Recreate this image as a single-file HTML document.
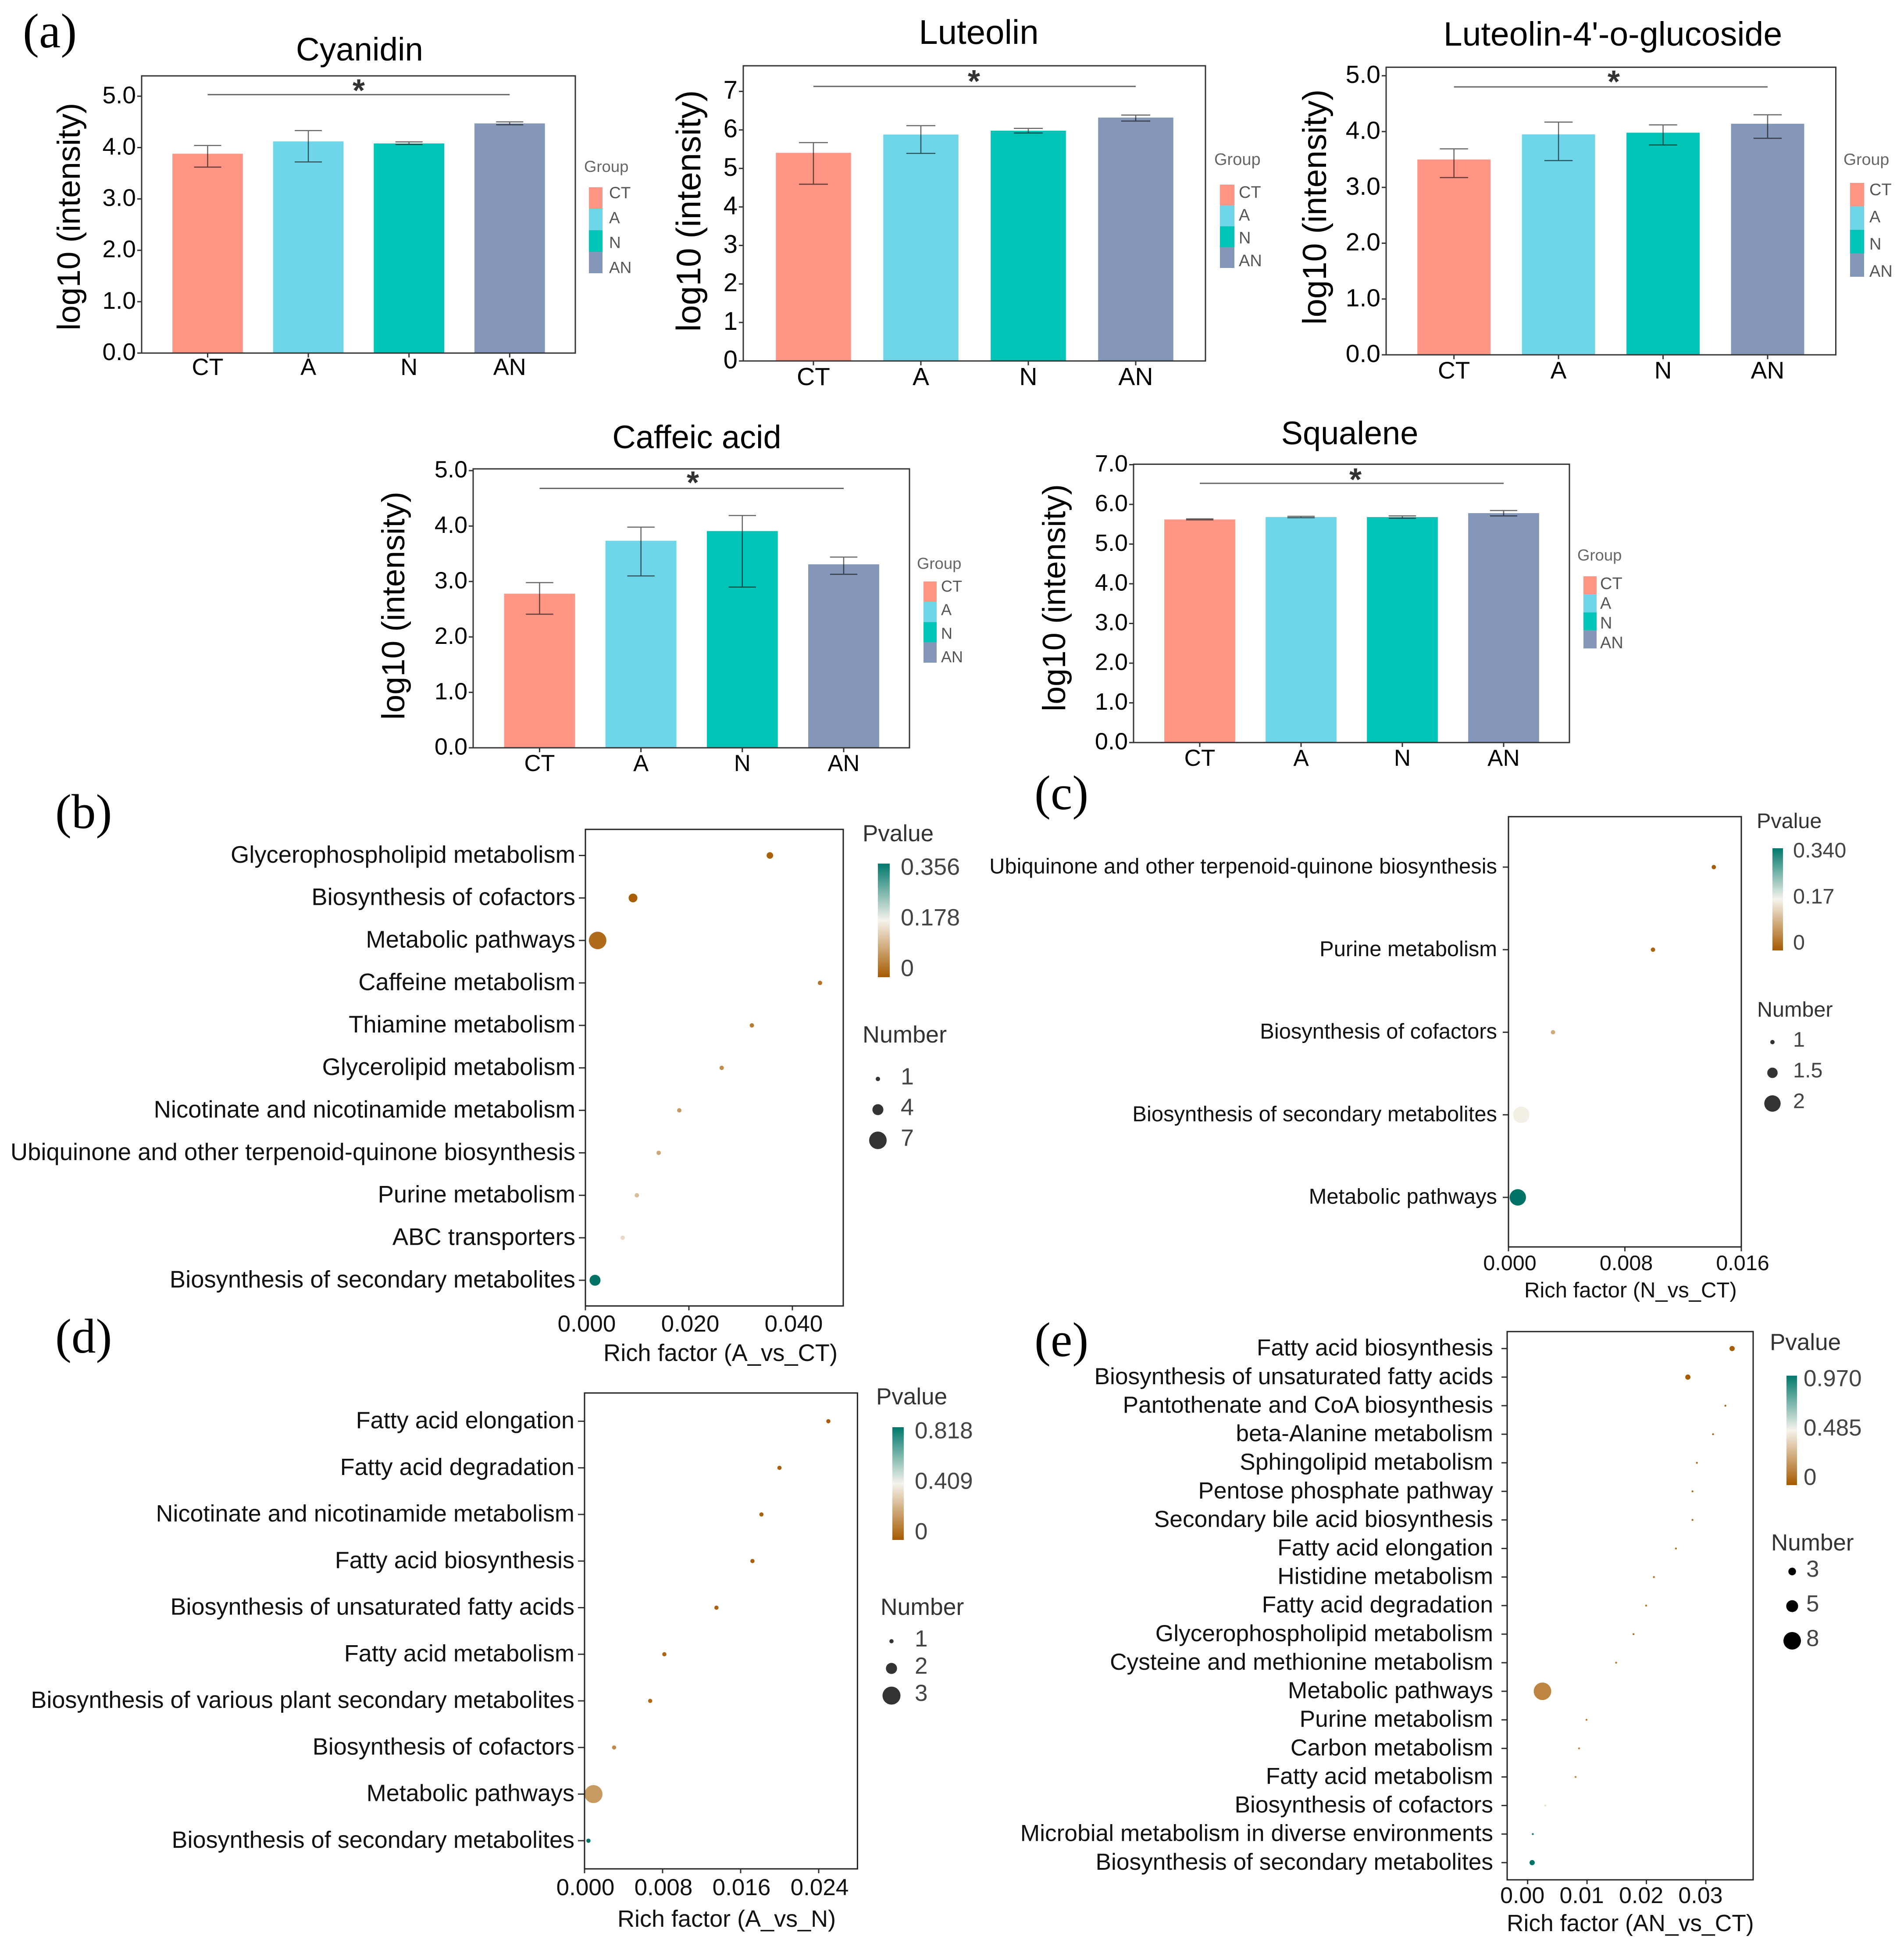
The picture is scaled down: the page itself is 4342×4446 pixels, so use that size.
<!DOCTYPE html>
<html lang="en">
<head>
<meta charset="utf-8">
<title>Metabolite intensity bar charts and pathway enrichment bubble plots</title>
<style>
  html, body { margin: 0; padding: 0; background: #fff; }
  svg { display: block; font-family: "Liberation Sans", Arial, sans-serif; }
  .panel-letter { font-family: "Liberation Serif", serif; font-size: 111px; fill: #000; }
  .star { font-size: 72px; font-weight: bold; fill: #333; text-anchor: middle; }
  .group-title { fill: #666; }
  .legend-title { fill: #333; }
  .axis-title { fill: #111; }
</style>
</head>
<body>
<svg id="figure" xmlns="http://www.w3.org/2000/svg" width="4342" height="4446" viewBox="0 0 4342 4446">
  <defs>
    <linearGradient id="pvalue-gradient" x1="0" y1="1" x2="0" y2="0">
      <stop offset="0" stop-color="#A65A00"/>
      <stop offset="0.5" stop-color="#F5F3EC"/>
      <stop offset="1" stop-color="#00786B"/>
    </linearGradient>
  </defs>
  <rect x="0" y="0" width="4342" height="4446" fill="#fff"/>

  <text class="panel-letter" x="52" y="108">(a)</text>
  <text class="panel-letter" x="126" y="1888">(b)</text>
  <text class="panel-letter" x="2359" y="1845">(c)</text>
  <text class="panel-letter" x="126" y="3084">(d)</text>
  <text class="panel-letter" x="2359" y="3092">(e)</text>

  <g id="chart-cyanidin">
    <text x="820" y="138" font-size="74.5" text-anchor="middle">Cyanidin</text>
    <text transform="translate(182,494) rotate(-90)" font-size="73.5" text-anchor="middle">log10 (intensity)</text>
    <text class="star" x="818" y="231">*</text>
    <text class="group-title" x="1332" y="392" font-size="36.5">Group</text>
  </g>
  <g id="chart-luteolin">
    <text x="2232" y="100" font-size="78" text-anchor="middle">Luteolin</text>
    <text transform="translate(1597,481) rotate(-90)" font-size="78" text-anchor="middle">log10 (intensity)</text>
    <text class="star" x="2221" y="210">*</text>
    <text class="group-title" x="2769" y="376" font-size="38">Group</text>
  </g>
  <g id="chart-luteolin4">
    <text x="3678" y="104" font-size="77" text-anchor="middle">Luteolin-4'-o-glucoside</text>
    <text transform="translate(3024,472) rotate(-90)" font-size="76" text-anchor="middle">log10 (intensity)</text>
    <text class="star" x="3680" y="211">*</text>
    <text class="group-title" x="4204" y="376" font-size="37.5">Group</text>
  </g>
  <g id="chart-caffeic">
    <text x="1589" y="1022" font-size="74" text-anchor="middle">Caffeic acid</text>
    <text transform="translate(922,1381) rotate(-90)" font-size="73.7" text-anchor="middle">log10 (intensity)</text>
    <text class="star" x="1580" y="1125">*</text>
    <text class="group-title" x="2091" y="1297" font-size="36.5">Group</text>
  </g>
  <g id="chart-squalene">
    <text x="3078" y="1013" font-size="74" text-anchor="middle">Squalene</text>
    <text transform="translate(2429,1363) rotate(-90)" font-size="73.4" text-anchor="middle">log10 (intensity)</text>
    <text class="star" x="3091" y="1118">*</text>
    <text class="group-title" x="3597" y="1278" font-size="36.5">Group</text>
  </g>

  <g id="chart-b">
    <text class="axis-title" x="1376" y="3103" font-size="54.3">Rich factor (A_vs_CT)</text>
    <text class="legend-title" x="1967" y="1918" font-size="53">Pvalue</text>
    <text class="legend-title" x="1967" y="2377" font-size="54">Number</text>
  </g>
  <g id="chart-c">
    <text class="axis-title" x="3476" y="2958" font-size="49">Rich factor (N_vs_CT)</text>
    <text class="legend-title" x="4006" y="1888" font-size="48.5">Pvalue</text>
    <text class="legend-title" x="4007" y="2318" font-size="48.5">Number</text>
  </g>
  <g id="chart-d">
    <text class="axis-title" x="1408" y="4393" font-size="54">Rich factor (A_vs_N)</text>
    <text class="legend-title" x="1998" y="3202" font-size="53">Pvalue</text>
    <text class="legend-title" x="2008" y="3682" font-size="53.5">Number</text>
  </g>
  <g id="chart-e">
    <text class="axis-title" x="3436" y="4403" font-size="53.4">Rich factor (AN_vs_CT)</text>
    <text class="legend-title" x="4036" y="3078" font-size="53">Pvalue</text>
    <text class="legend-title" x="4039" y="3535" font-size="53">Number</text>
  </g>
</svg>

<script>
// ---------- Bar chart data ----------
const groups = ['CT', 'A', 'N', 'AN'];
const groupColors = ['#FE9585', '#6ED6E8', '#00C5B6', '#8497B8'];

const cyanidinTicks = ['0.0', '1.0', '2.0', '3.0', '4.0', '5.0'];
const cyanidinMeans = [3.88, 4.12, 4.08, 4.47];
const cyanidinUpper = [4.04, 4.33, 4.11, 4.50];
const cyanidinLower = [3.62, 3.72, 4.06, 4.445];
const cyanidinSig = 5.03;

const luteolinTicks = ['0', '1', '2', '3', '4', '5', '6', '7'];
const luteolinMeans = [5.405, 5.88, 5.98, 6.32];
const luteolinUpper = [5.67, 6.11, 6.04, 6.385];
const luteolinLower = [4.59, 5.39, 5.92, 6.23];
const luteolinSig = 7.13;

const luteolin4Ticks = ['0.0', '1.0', '2.0', '3.0', '4.0', '5.0'];
const luteolin4Means = [3.50, 3.95, 3.98, 4.14];
const luteolin4Upper = [3.69, 4.17, 4.12, 4.30];
const luteolin4Lower = [3.176, 3.48, 3.76, 3.88];
const luteolin4Sig = 4.80;

const caffeicTicks = ['0.0', '1.0', '2.0', '3.0', '4.0', '5.0'];
const caffeicMeans = [2.78, 3.735, 3.91, 3.31];
const caffeicUpper = [2.98, 3.98, 4.19, 3.44];
const caffeicLower = [2.41, 3.10, 2.90, 3.13];
const caffeicSig = 4.68;

const squaleneTicks = ['0.0', '1.0', '2.0', '3.0', '4.0', '5.0', '6.0', '7.0'];
const squaleneMeans = [5.62, 5.68, 5.68, 5.78];
const squaleneUpper = [5.635, 5.70, 5.71, 5.845];
const squaleneLower = [5.61, 5.665, 5.65, 5.71];
const squaleneSig = 6.53;

// ---------- Bubble chart data ----------
const bPathways = ['Glycerophospholipid metabolism', 'Biosynthesis of cofactors', 'Metabolic pathways', 'Caffeine metabolism', 'Thiamine metabolism', 'Glycerolipid metabolism', 'Nicotinate and nicotinamide metabolism', 'Ubiquinone and other terpenoid-quinone biosynthesis', 'Purine metabolism', 'ABC transporters', 'Biosynthesis of secondary metabolites'];
const bRichFactor = [0.03565, 0.0092, 0.00236, 0.04534, 0.03217, 0.02634, 0.01814, 0.01416, 0.00994, 0.0072, 0.00186];
const bPvalue = [0.008, 0.005, 0.02, 0.03, 0.04, 0.06, 0.075, 0.09, 0.115, 0.15, 0.356];
const bNumber = [2, 3, 7, 1, 1, 1, 1, 1, 1, 1, 4];
const bXTicks = ['0.000', '0.020', '0.040'];
const bColorbarTicks = ['0', '0.178', '0.356'];
const bSizeTicks = ['1', '4', '7'];

const cPathways = ['Ubiquinone and other terpenoid-quinone biosynthesis', 'Purine metabolism', 'Biosynthesis of cofactors', 'Biosynthesis of secondary metabolites', 'Metabolic pathways'];
const cRichFactor = [0.01411, 0.00993, 0.00306, 0.00088, 0.00064];
const cPvalue = [0.002, 0.01, 0.09, 0.165, 0.34];
const cNumber = [1, 1, 1, 2, 2];
const cXTicks = ['0.000', '0.008', '0.016'];
const cColorbarTicks = ['0', '0.17', '0.340'];
const cSizeTicks = ['1', '1.5', '2'];

const dPathways = ['Fatty acid elongation', 'Fatty acid degradation', 'Nicotinate and nicotinamide metabolism', 'Fatty acid biosynthesis', 'Biosynthesis of unsaturated fatty acids', 'Fatty acid metabolism', 'Biosynthesis of various plant secondary metabolites', 'Biosynthesis of cofactors', 'Metabolic pathways', 'Biosynthesis of secondary metabolites'];
const dRichFactor = [0.02499, 0.01998, 0.01813, 0.01721, 0.01352, 0.00818, 0.00673, 0.00303, 0.00092, 0.0004];
const dPvalue = [0.01, 0.015, 0.02, 0.02, 0.025, 0.03, 0.04, 0.13, 0.17, 0.818];
const dNumber = [1, 1, 1, 1, 1, 1, 1, 1, 3, 1];
const dXTicks = ['0.000', '0.008', '0.016', '0.024'];
const dColorbarTicks = ['0', '0.409', '0.818'];
const dSizeTicks = ['1', '2', '3'];

const ePathways = ['Fatty acid biosynthesis', 'Biosynthesis of unsaturated fatty acids', 'Pantothenate and CoA biosynthesis', 'beta-Alanine metabolism', 'Sphingolipid metabolism', 'Pentose phosphate pathway', 'Secondary bile acid biosynthesis', 'Fatty acid elongation', 'Histidine metabolism', 'Fatty acid degradation', 'Glycerophospholipid metabolism', 'Cysteine and methionine metabolism', 'Metabolic pathways', 'Purine metabolism', 'Carbon metabolism', 'Fatty acid metabolism', 'Biosynthesis of cofactors', 'Microbial metabolism in diverse environments', 'Biosynthesis of secondary metabolites'];
const eRichFactor = [0.03443, 0.02698, 0.0333, 0.03122, 0.0285, 0.02776, 0.02776, 0.02497, 0.02126, 0.01995, 0.01783, 0.0149, 0.0025, 0.00991, 0.00866, 0.00807, 0.00298, 0.00087, 0.00076];
const ePvalue = [0.01, 0.005, 0.03, 0.04, 0.05, 0.05, 0.05, 0.06, 0.07, 0.07, 0.08, 0.1, 0.135, 0.12, 0.13, 0.14, 0.42, 0.93, 0.97];
const eNumber = [2, 2, 1, 1, 1, 1, 1, 1, 1, 1, 1, 1, 8, 1, 1, 1, 1, 1, 2];
const eXTicks = ['0.00', '0.01', '0.02', '0.03'];
const eColorbarTicks = ['0', '0.485', '0.970'];
const eSizeTicks = ['3', '5', '8'];

// ---------- Helpers ----------
const NS = 'http://www.w3.org/2000/svg';
function mk(parent, tag, attrs, text) {
  const el = document.createElementNS(NS, tag);
  for (const k in attrs) el.setAttribute(k, attrs[k]);
  if (text !== undefined) el.textContent = text;
  parent.appendChild(el);
  return el;
}
function lerp(a, b, t) { return Math.round(a + (b - a) * t); }
const low = [166, 90, 0], mid = [245, 243, 236], high = [0, 114, 102];
function pColor(p, max) {
  const t = Math.max(0, Math.min(1, p / max));
  const from = t < 0.5 ? low : mid;
  const to = t < 0.5 ? mid : high;
  const u = t < 0.5 ? t * 2 : (t - 0.5) * 2;
  return 'rgb(' + lerp(from[0], to[0], u) + ',' + lerp(from[1], to[1], u) + ',' + lerp(from[2], to[2], u) + ')';
}

// ---------- Bar chart renderer ----------
function drawBars(c) {
  const g = document.getElementById(c.id);
  const maxTick = Number(c.ticks[c.ticks.length - 1]);
  const yScale = v => c.bottom - v * (c.bottom - c.yAtMax) / maxTick;
  const step = (c.lastCenter - c.firstCenter) / (groups.length - 1);
  const xScale = i => c.firstCenter + i * step;
  const barW = 0.7 * step;
  const capW = 0.27 * step;

  groups.forEach((name, i) => {
    const top = yScale(c.means[i]);
    const bar = mk(g, 'rect', { x: xScale(i) - barW / 2, y: top, width: barW, height: c.bottom - top, fill: groupColors[i] });
    
    

    const err = mk(g, 'path', {
      d: 'M' + (xScale(i) - capW / 2) + ' ' + yScale(c.upper[i]) + 'H' + (xScale(i) + capW / 2) +
         'M' + xScale(i) + ' ' + yScale(c.upper[i]) + 'V' + yScale(c.lower[i]) +
         'M' + (xScale(i) - capW / 2) + ' ' + yScale(c.lower[i]) + 'H' + (xScale(i) + capW / 2),
      fill: 'none', stroke: '#000', 'stroke-opacity': 0.6, 'stroke-width': 2.5
    });
    
    

    const tick = mk(g, 'line', { x1: xScale(i), x2: xScale(i), y1: c.bottom, y2: c.bottom + 10, stroke: '#333', 'stroke-width': 3 });
    
    

    const label = mk(g, 'text', { x: xScale(i), y: c.xBase, 'font-size': c.xFont, 'text-anchor': 'middle', fill: '#000' }, name);
    
    

    const key = mk(g, 'rect', { x: c.keyX, y: c.keyY + i * c.keyStep, width: c.keyW, height: c.keyStep, fill: groupColors[i] });
    
    

    const keyLabel = mk(g, 'text', { x: c.keyLabelX, y: c.keyLabelY + i * c.keyLabelStep + c.legendFont * 0.36, 'font-size': c.legendFont, fill: '#555' }, name);
    
    
  });

  c.ticks.forEach(t => {
    const y = yScale(Number(t));
    const tick = mk(g, 'line', { x1: c.left - 10, x2: c.left, y1: y, y2: y, stroke: '#333', 'stroke-width': 3 });
    
    
    const label = mk(g, 'text', { x: c.left - 13, y: y + c.yFont * 0.29, 'font-size': c.yFont, 'text-anchor': 'end', fill: '#000' }, t);
    
    
  });

  const sig = mk(g, 'line', { x1: xScale(0), x2: xScale(3), y1: yScale(c.sig), y2: yScale(c.sig), stroke: '#666', 'stroke-width': 3 });
  
  

  const frame = mk(g, 'rect', { x: c.left, y: c.top, width: c.right - c.left, height: c.bottom - c.top, fill: 'none', stroke: '#333', 'stroke-width': 3 });
  
  
}

// ---------- Bubble chart renderer ----------
function drawDots(c) {
  const g = document.getElementById(c.id);
  const lastTick = Number(c.xTicks[c.xTicks.length - 1]);
  const xScale = v => c.xZero + v * (c.xAtLast - c.xZero) / lastTick;
  const rowStep = (c.lastRow - c.firstRow) / (c.pathways.length - 1);
  const yScale = i => c.firstRow + i * rowStep;
  const nMin = Number(c.sizeMin);
  const rScale = n => c.rMin + (c.rMax - c.rMin) * Math.pow((n - nMin) / (c.sizeMax - nMin), c.gamma);
  const pMax = Number(c.cbTicks[c.cbTicks.length - 1]);

  c.pathways.forEach((name, i) => {
    const tick = mk(g, 'line', { x1: c.left - c.tickLen, x2: c.left, y1: yScale(i), y2: yScale(i), stroke: '#333', 'stroke-width': 3 });
    
    

    const label = mk(g, 'text', { x: c.labelRight, y: yScale(i) + c.rowFont * 0.30, 'font-size': c.rowFont, 'text-anchor': 'end', fill: '#111' }, name);
    
    

    const dot = mk(g, 'circle', { cx: xScale(c.rich[i]), cy: yScale(i), r: rScale(c.number[i]), fill: pColor(c.pvalue[i], pMax) });
    
    
  });

  c.xTicks.forEach(t => {
    const x = xScale(Number(t));
    const tick = mk(g, 'line', { x1: x, x2: x, y1: c.bottom, y2: c.bottom + 10, stroke: '#333', 'stroke-width': 3 });
    
    
    const label = mk(g, 'text', { x: x + c.xLabelDx, y: c.xBase, 'font-size': c.xFont, 'text-anchor': 'middle', fill: '#111' }, t);
    
    
  });

  const frame = mk(g, 'rect', { x: c.left, y: c.top, width: c.right - c.left, height: c.bottom - c.top, fill: 'none', stroke: '#222', 'stroke-width': 3 });
  
  

  const bar = mk(g, 'rect', { x: c.cbX, y: c.cbTop, width: c.cbW, height: c.cbBottom - c.cbTop, fill: 'url(#pvalue-gradient)' });
  
  

  c.cbTicks.forEach(t => {
    const y = c.cbLabelLow + (c.cbLabelHigh - c.cbLabelLow) * Number(t) / pMax;
    const label = mk(g, 'text', { x: c.cbLabelX, y: y + c.legendFont * 0.31, 'font-size': c.legendFont, fill: '#444' }, t);
    
    
  });

  c.sizeTicks.forEach((t, i) => {
    const y = c.sizeY + i * c.sizeStep;
    const dot = mk(g, 'circle', { cx: c.sizeX, cy: y, r: rScale(Number(t)), fill: c.sizeFill });
    
    
    const label = mk(g, 'text', { x: c.sizeLabelX, y: y - 5 + c.legendFont * 0.32, 'font-size': c.legendFont, fill: '#444' }, t);
    
    
  });
}

// ---------- Draw ----------
drawBars({ id: 'chart-cyanidin', ticks: cyanidinTicks, means: cyanidinMeans, upper: cyanidinUpper, lower: cyanidinLower, sig: cyanidinSig,
  left: 323, right: 1312, top: 173, bottom: 805, yAtMax: 219.3, firstCenter: 473.5, lastCenter: 1162.3, yFont: 55, xFont: 54, xBase: 855,
  keyX: 1343, keyY: 427, keyW: 31, keyStep: 49, keyLabelX: 1389, keyLabelY: 438.7, keyLabelStep: 56.8, legendFont: 37 });
drawBars({ id: 'chart-luteolin', ticks: luteolinTicks, means: luteolinMeans, upper: luteolinUpper, lower: luteolinLower, sig: luteolinSig,
  left: 1695, right: 2749, top: 150, bottom: 823, yAtMax: 208.4, firstCenter: 1855, lastCenter: 2590, yFont: 58, xFont: 57, xBase: 878,
  keyX: 2782, keyY: 421, keyW: 33, keyStep: 47.5, keyLabelX: 2825, keyLabelY: 437.5, keyLabelStep: 52, legendFont: 38 });
drawBars({ id: 'chart-luteolin4', ticks: luteolin4Ticks, means: luteolin4Means, upper: luteolin4Upper, lower: luteolin4Lower, sig: luteolin4Sig,
  left: 3161, right: 4186.5, top: 153.3, bottom: 809, yAtMax: 172.7, firstCenter: 3315.7, lastCenter: 4031, yFont: 57, xFont: 55, xBase: 863,
  keyX: 4219, keyY: 417, keyW: 32, keyStep: 53.5, keyLabelX: 4263, keyLabelY: 431.5, keyLabelStep: 62, legendFont: 38 });
drawBars({ id: 'chart-caffeic', ticks: caffeicTicks, means: caffeicMeans, upper: caffeicUpper, lower: caffeicLower, sig: caffeicSig,
  left: 1079, right: 2074, top: 1069, bottom: 1705, yAtMax: 1073, firstCenter: 1230.5, lastCenter: 1924, yFont: 54, xFont: 52.5, xBase: 1758,
  keyX: 2106, keyY: 1325.7, keyW: 30, keyStep: 46.3, keyLabelX: 2146, keyLabelY: 1336, keyLabelStep: 53.7, legendFont: 36 });
drawBars({ id: 'chart-squalene', ticks: squaleneTicks, means: squaleneMeans, upper: squaleneUpper, lower: squaleneLower, sig: squaleneSig,
  left: 2585, right: 3579, top: 1058.4, bottom: 1693, yAtMax: 1059.5, firstCenter: 2736, lastCenter: 3429, yFont: 54, xFont: 53, xBase: 1746,
  keyX: 3611, keyY: 1314, keyW: 30, keyStep: 41.1, keyLabelX: 3649, keyLabelY: 1329.5, keyLabelStep: 45, legendFont: 38 });

drawDots({ id: 'chart-b', pathways: bPathways, rich: bRichFactor, pvalue: bPvalue, number: bNumber, xTicks: bXTicks, cbTicks: bColorbarTicks, sizeTicks: bSizeTicks,
  left: 1335, right: 1923, top: 1891, bottom: 2977.6, xZero: 1335, xAtLast: 1807, firstRow: 1950.5, lastRow: 2919, tickLen: 15, labelRight: 1312, rowFont: 54.4,
  xFont: 53, xBase: 3036, xLabelDx: 3, rMin: 5, rMax: 20, sizeMin: 1, sizeMax: 7, gamma: 1,
  cbX: 2002, cbW: 27, cbTop: 1969, cbBottom: 2228, cbLabelX: 2054, cbLabelLow: 2209, cbLabelHigh: 1978, legendFont: 54,
  sizeX: 2002, sizeY: 2460, sizeStep: 70, sizeLabelX: 2054, sizeFill: '#333' });
drawDots({ id: 'chart-c', pathways: cPathways, rich: cRichFactor, pvalue: cPvalue, number: cNumber, xTicks: cXTicks, cbTicks: cColorbarTicks, sizeTicks: cSizeTicks,
  left: 3440, right: 3971, top: 1862, bottom: 2843, xZero: 3440, xAtLast: 3971, firstRow: 1977, lastRow: 2730, tickLen: 13, labelRight: 3414, rowFont: 48.9,
  xFont: 48.5, xBase: 2896, xLabelDx: 3, rMin: 5, rMax: 18.7, sizeMin: 1, sizeMax: 2, gamma: 1,
  cbX: 4042, cbW: 24, cbTop: 1934, cbBottom: 2167, cbLabelX: 4089, cbLabelLow: 2150, cbLabelHigh: 1940, legendFont: 48.5,
  sizeX: 4042, sizeY: 2376, sizeStep: 70, sizeLabelX: 4089, sizeFill: '#333' });
drawDots({ id: 'chart-d', pathways: dPathways, rich: dRichFactor, pvalue: dPvalue, number: dNumber, xTicks: dXTicks, cbTicks: dColorbarTicks, sizeTicks: dSizeTicks,
  left: 1333, right: 1955.4, top: 3176, bottom: 4261, xZero: 1333, xAtLast: 1867, firstRow: 3240.4, lastRow: 4196.8, tickLen: 15, labelRight: 1310, rowFont: 54,
  xFont: 53, xBase: 4321, xLabelDx: 2, rMin: 4.8, rMax: 20.5, sizeMin: 1, sizeMax: 3, gamma: 1,
  cbX: 2035, cbW: 26, cbTop: 3254, cbBottom: 3511, cbLabelX: 2086, cbLabelLow: 3493, cbLabelHigh: 3263, legendFont: 53,
  sizeX: 2033, sizeY: 3742, sizeStep: 62, sizeLabelX: 2086, sizeFill: '#333' });
drawDots({ id: 'chart-e', pathways: ePathways, rich: eRichFactor, pvalue: ePvalue, number: eNumber, xTicks: eXTicks, cbTicks: eColorbarTicks, sizeTicks: eSizeTicks,
  left: 3437, right: 3998, top: 3036, bottom: 4286, xZero: 3483.7, xAtLast: 3890, firstRow: 3074.7, lastRow: 4246.8, tickLen: 13, labelRight: 3405, rowFont: 53.3,
  xFont: 52, xBase: 4339, xLabelDx: -12, rMin: 2.2, rMax: 20, sizeMin: 1, sizeMax: 8, gamma: 0.8,
  cbX: 4074, cbW: 24, cbTop: 3136.5, cbBottom: 3386, cbLabelX: 4113, cbLabelLow: 3369, cbLabelHigh: 3144, legendFont: 53,
  sizeX: 4087, sizeY: 3583, sizeStep: 79, sizeLabelX: 4119, sizeFill: '#000' });
</script>
</body>
</html>
